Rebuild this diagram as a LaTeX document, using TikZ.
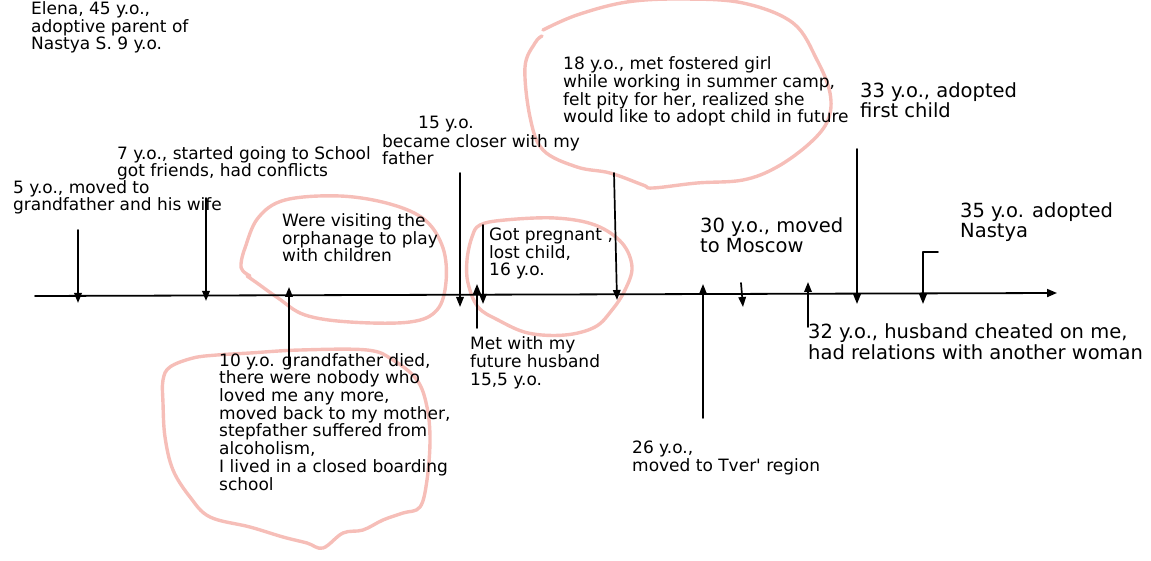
\documentclass[tikz,border=0pt]{standalone}
\usepackage{fontspec}
\setmainfont{DejaVu Sans}
\usetikzlibrary{arrows.meta}
\definecolor{scribble}{RGB}{246,190,184}
\tikzset{
  every picture/.append style={line cap=round,line join=round},
  life axis/.style={line width=1.8pt,-{Triangle[length=10pt,width=8pt]}},
  life tick/.style={line width=1.7pt,-{Triangle[length=10pt,width=7.5pt]}},
  life circle/.style={draw=scribble,line width=3.4pt},
  life note/.style={font=\fontsize{17}{17.7}\selectfont,align=left,anchor=base west,inner sep=0pt},
  life big note/.style={font=\fontsize{19.5}{20.5}\selectfont,align=left,anchor=base west,inner sep=0pt}
}

\begin{document}
\begin{tikzpicture}[x=1pt,y=-1pt]
  \useasboundingbox (0,0) rectangle (1151,561);

  \draw[life circle] plot[smooth,tension=0.6] coordinates {(250,276) (243,271) (241,264) (245,248) (258,218) (285,200) (340,196) (390,204) (425,220) (443,248) (446,282) (437,310) (410,322) (350,322) (305,315) (278,298) (257,283) (247,276)};
  \draw[life circle] plot[smooth cycle,tension=0.6] coordinates {(480,225) (505,220) (555,218) (595,225) (622,243) (632,267) (625,290) (612,310) (595,327) (565,335) (528,333) (498,320) (478,307) (468,283) (467,260) (472,237)};
  \draw[life circle] plot[smooth,tension=0.6] coordinates {(543,30) (577,15) (627,2) (683,-1) (743,3) (793,23) (817,60) (830,93) (828,120) (810,143) (777,167) (743,180) (697,183) (653,188) (643,185) (610,173) (577,167) (543,150) (530,117) (525,67) (535,43) (542,36)};
  \draw[life circle] plot[smooth cycle,tension=0.6] coordinates {(163,380) (170,367) (193,358) (217,355) (250,353) (300,350) (367,350) (393,360) (417,380) (427,407) (430,440) (427,480) (420,507) (403,513) (383,520) (363,530) (343,533) (323,548) (307,543) (283,537) (250,527) (210,517) (190,497) (173,470) (165,437) (163,403)};

  \coordinate (axis start) at (35,296);
  \coordinate (axis end) at (1057,293);
  \draw[life axis] (axis start) -- (axis end);

  \node[life note] (elena) at (31,50) {Elena, 45 y.o.,\\adoptive parent of\\Nastya S. 9 y.o.};
  \node[life note] (age5) at (13,211) {5 y.o., moved to\\grandfather and his wife};
  \node[life note] (age7) at (117,177) {7 y.o., started going to School\\got friends, had conflicts};
  \node[life note] (visits) at (282,262) {Were visiting the\\orphanage to play\\with children};
  \node[life note] (age10) at (219,490) {10 y.o. grandfather died,\\there were nobody who\\loved me any more,\\moved back to my mother,\\stepfather suffered from\\alcoholism,\\I lived in a closed boarding\\school};
  \node[life note] (age15) at (382,165) {\hspace*{36pt}15 y.o.\\[1.3pt]became closer with my\\father};
  \node[life note] (pregnant) at (489,276) {Got pregnant ,\\lost child,\\16 y.o.};
  \node[life note] (husband) at (470,385) {Met with my\\future husband\\15,5 y.o.};
  \node[life note] (camp) at (563,123) {18 y.o., met fostered girl\\while working in summer camp,\\felt pity for her, realized she\\would like to adopt child in future};
  \node[life note] (tver) at (632,471) {26 y.o.,\\moved to Tver\textquotesingle\ region};
  \node[life big note] (moscow) at (700,253) {30 y.o., moved\\to Moscow};
  \node[life big note] (cheated) at (808,359) {32 y.o., husband cheated on me,\\had relations with another woman};
  \node[life big note] (first) at (860,118) {33 y.o., adopted\\first child};
  \node[life big note] (nastya) at (960,238) {35 y.o. adopted\\Nastya};

  \coordinate (t5) at (78,230);    \coordinate (a5) at (78,303);
  \coordinate (t7) at (206,198);   \coordinate (a7) at (206,301);
  \coordinate (t10) at (289,365);  \coordinate (a10) at (289,287);
  \coordinate (t15) at (460,173);  \coordinate (a15) at (460,307);
  \coordinate (t155) at (477,328); \coordinate (a155) at (477,284);
  \coordinate (t16) at (483,225);  \coordinate (a16) at (483,304);
  \coordinate (t18) at (614,173);  \coordinate (a18) at (617,300);
  \coordinate (t26) at (703,418);  \coordinate (a26) at (703,284);
  \coordinate (t30) at (741,283);  \coordinate (a30) at (743,307);
  \coordinate (t32) at (808,327);  \coordinate (a32) at (808,282);
  \coordinate (t33) at (857,149);  \coordinate (a33) at (857,304);
  \coordinate (t35) at (938,252);  \coordinate (a35) at (923,304);

  \draw[life tick] (t5) -- (a5);
  \draw[life tick] (t7) -- (a7);
  \draw[life tick] (t10) -- (a10);
  \draw[life tick] (t15) -- (a15);
  \draw[life tick] (t155) -- (a155);
  \draw[life tick] (t16) -- (a16);
  \draw[life tick] (t18) -- (a18);
  \draw[life tick] (t26) -- (a26);
  \draw[life tick] (t30) -- (a30);
  \draw[life tick] (t32) -- (a32);
  \draw[life tick] (t33) -- (a33);
  \draw[life tick] (t35) -| (a35);
\end{tikzpicture}
\end{document}
